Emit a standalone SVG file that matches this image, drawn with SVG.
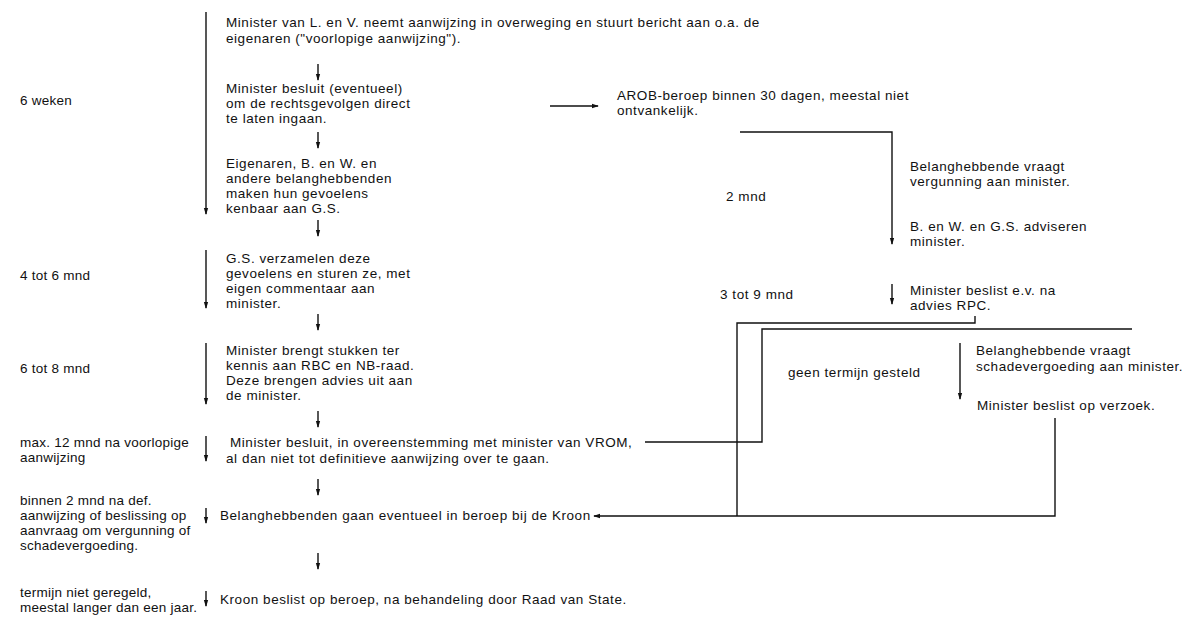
<svg xmlns="http://www.w3.org/2000/svg" width="1186" height="617" viewBox="0 0 1186 617">
<defs>
<marker id="ah" viewBox="0 0 8 8" refX="7" refY="4" markerWidth="7" markerHeight="7" markerUnits="userSpaceOnUse" orient="auto">
<path d="M0,1.5 L8,4 L0,6.5 z" fill="#111"/>
</marker>
<style>
text{font-family:"Liberation Sans",Arial,sans-serif;font-size:13.5px;letter-spacing:0.55px;fill:#111}
.t text{letter-spacing:0.25px}
.c line,.c path{stroke:#111;stroke-width:1.4;fill:none}
.a{marker-end:url(#ah)}
</style>
</defs>
<rect width="1186" height="617" fill="#fff"/>
<g id="connectors" class="c">
<line class="a" x1="206" y1="12" x2="206" y2="214"/>
<line class="a" x1="206" y1="250" x2="206" y2="308"/>
<line class="a" x1="206" y1="343" x2="206" y2="404"/>
<line class="a" x1="206" y1="436" x2="206" y2="461"/>
<line class="a" x1="206" y1="508" x2="206" y2="523"/>
<line class="a" x1="206" y1="591" x2="206" y2="606"/>
<line class="a" x1="318" y1="64" x2="318" y2="80"/>
<line class="a" x1="318" y1="132" x2="318" y2="148"/>
<line class="a" x1="318" y1="220" x2="318" y2="236"/>
<line class="a" x1="318" y1="314" x2="318" y2="330"/>
<line class="a" x1="318" y1="411" x2="318" y2="427"/>
<line class="a" x1="318" y1="479" x2="318" y2="495"/>
<line class="a" x1="318" y1="553" x2="318" y2="569"/>
<line class="a" x1="550" y1="106" x2="598" y2="106"/>
<path class="a" d="M740,132 H892 V244"/>
<line class="a" x1="892" y1="284" x2="892" y2="304"/>
<path d="M975,316 V323 H737 V516"/>
<path d="M645,442 H762 V329 H1132"/>
<line class="a" x1="960" y1="343" x2="960" y2="399"/>
<path class="a" d="M1055,418 V516 H594"/>
</g>
<g id="n-times" class="t">
<text x="20" y="105">6 weken</text>
<text x="20" y="280">4 tot 6 mnd</text>
<text x="20" y="373">6 tot 8 mnd</text>
<text x="20" y="447">max. 12 mnd na voorlopige</text>
<text x="20" y="462">aanwijzing</text>
<text x="20" y="505">binnen 2 mnd na def.</text>
<text x="20" y="520">aanwijzing of beslissing op</text>
<text x="20" y="535">aanvraag om vergunning of</text>
<text x="20" y="550">schadevergoeding.</text>
<text x="20" y="597">termijn niet geregeld,</text>
<text x="20" y="612">meestal langer dan een jaar.</text>
</g>
<g id="n1"><text x="226" y="27">Minister van L. en V. neemt aanwijzing in overweging en stuurt bericht aan o.a. de</text><text x="226" y="43">eigenaren ("voorlopige aanwijzing").</text></g>
<g id="n2"><text x="226" y="93">Minister besluit (eventueel)</text><text x="226" y="108">om de rechtsgevolgen direct</text><text x="226" y="123">te laten ingaan.</text></g>
<g id="n3"><text x="226" y="168">Eigenaren, B. en W. en</text><text x="226" y="183">andere belanghebbenden</text><text x="226" y="198">maken hun gevoelens</text><text x="226" y="213">kenbaar aan G.S.</text></g>
<g id="n4"><text x="226" y="263">G.S. verzamelen deze</text><text x="226" y="278">gevoelens en sturen ze, met</text><text x="226" y="293">eigen commentaar aan</text><text x="226" y="308">minister.</text></g>
<g id="n5"><text x="226" y="355">Minister brengt stukken ter</text><text x="226" y="370">kennis aan RBC en NB-raad.</text><text x="226" y="385">Deze brengen advies uit aan</text><text x="226" y="400">de minister.</text></g>
<g id="n6"><text x="230" y="447">Minister besluit, in overeenstemming met minister van VROM,</text><text x="226" y="463">al dan niet tot definitieve aanwijzing over te gaan.</text></g>
<g id="n7"><text x="220" y="520">Belanghebbenden gaan eventueel in beroep bij de Kroon</text></g>
<g id="n8"><text x="220" y="604">Kroon beslist op beroep, na behandeling door Raad van State.</text></g>
<g id="n9"><text x="617" y="100">AROB-beroep binnen 30 dagen, meestal niet</text><text x="617" y="115">ontvankelijk.</text></g>
<g id="n10"><text x="910" y="171">Belanghebbende vraagt</text><text x="910" y="186">vergunning aan minister.</text></g>
<g id="n11"><text x="726" y="201">2 mnd</text></g>
<g id="n12"><text x="910" y="231">B. en W. en G.S. adviseren</text><text x="910" y="246">minister.</text></g>
<g id="n13"><text x="720" y="299">3 tot 9 mnd</text></g>
<g id="n14"><text x="910" y="295">Minister beslist e.v. na</text><text x="910" y="310">advies RPC.</text></g>
<g id="n15"><text x="976" y="355">Belanghebbende vraagt</text><text x="976" y="371">schadevergoeding aan minister.</text></g>
<g id="n16"><text x="788" y="377">geen termijn gesteld</text></g>
<g id="n17"><text x="977" y="410">Minister beslist op verzoek.</text></g>
</svg>
